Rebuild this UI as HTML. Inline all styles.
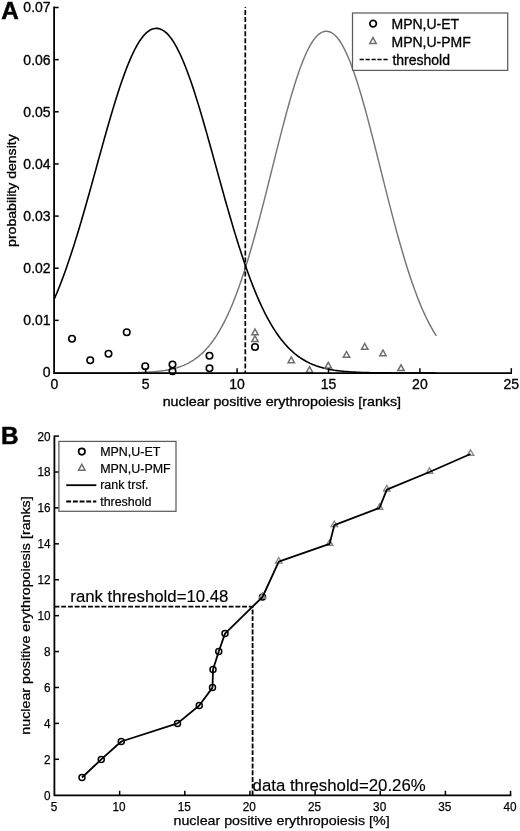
<!DOCTYPE html>
<html lang="en"><head><meta charset="utf-8"><title>Figure</title>
<style>
html,body{margin:0;padding:0;background:#fff;}
body{width:520px;height:831px;overflow:hidden;}
svg{display:block;}
</style></head><body>
<svg width="520" height="831" viewBox="0 0 520 831">
<rect width="520" height="831" fill="#fff"/>
<g id="panelA">
<path d="M54.30,373.00 L55.57,373.00 L56.85,373.00 L58.12,373.00 L59.39,373.00 L60.67,373.00 L61.94,373.00 L63.21,373.00 L64.49,373.00 L65.76,373.00 L67.04,373.00 L68.31,373.00 L69.58,373.00 L70.86,373.00 L72.13,373.00 L73.40,373.00 L74.68,373.00 L75.95,373.00 L77.22,373.00 L78.50,373.00 L79.77,373.00 L81.04,373.00 L82.32,373.00 L83.59,373.00 L84.86,373.00 L86.14,373.00 L87.41,372.99 L88.68,372.99 L89.96,372.99 L91.23,372.99 L92.51,372.99 L93.78,372.99 L95.05,372.99 L96.33,372.99 L97.60,372.99 L98.87,372.98 L100.15,372.98 L101.42,372.98 L102.69,372.98 L103.97,372.97 L105.24,372.97 L106.51,372.97 L107.79,372.96 L109.06,372.96 L110.33,372.96 L111.61,372.95 L112.88,372.94 L114.15,372.94 L115.43,372.93 L116.70,372.92 L117.98,372.92 L119.25,372.91 L120.52,372.90 L121.80,372.88 L123.07,372.87 L124.34,372.86 L125.62,372.84 L126.89,372.83 L128.16,372.81 L129.44,372.79 L130.71,372.77 L131.98,372.74 L133.26,372.72 L134.53,372.69 L135.80,372.66 L137.08,372.62 L138.35,372.58 L139.62,372.54 L140.90,372.50 L142.17,372.45 L143.45,372.40 L144.72,372.34 L145.99,372.28 L147.27,372.21 L148.54,372.14 L149.81,372.06 L151.09,371.97 L152.36,371.88 L153.63,371.78 L154.91,371.67 L156.18,371.55 L157.45,371.43 L158.73,371.29 L160.00,371.14 L161.27,370.98 L162.55,370.81 L163.82,370.63 L165.10,370.43 L166.37,370.22 L167.64,369.99 L168.92,369.74 L170.19,369.48 L171.46,369.20 L172.74,368.90 L174.01,368.58 L175.28,368.23 L176.56,367.87 L177.83,367.48 L179.10,367.06 L180.38,366.62 L181.65,366.14 L182.92,365.64 L184.20,365.11 L185.47,364.54 L186.74,363.94 L188.02,363.30 L189.29,362.62 L190.57,361.91 L191.84,361.15 L193.11,360.35 L194.39,359.50 L195.66,358.61 L196.93,357.67 L198.21,356.68 L199.48,355.63 L200.75,354.53 L202.03,353.37 L203.30,352.15 L204.57,350.88 L205.85,349.54 L207.12,348.13 L208.39,346.66 L209.67,345.12 L210.94,343.51 L212.21,341.83 L213.49,340.07 L214.76,338.23 L216.04,336.32 L217.31,334.33 L218.58,332.25 L219.86,330.10 L221.13,327.86 L222.40,325.53 L223.68,323.11 L224.95,320.61 L226.22,318.01 L227.50,315.33 L228.77,312.55 L230.04,309.68 L231.32,306.72 L232.59,303.66 L233.86,300.51 L235.14,297.27 L236.41,293.93 L237.68,290.50 L238.96,286.97 L240.23,283.35 L241.51,279.64 L242.78,275.84 L244.05,271.95 L245.33,267.97 L246.60,263.90 L247.87,259.75 L249.15,255.51 L250.42,251.20 L251.69,246.80 L252.97,242.34 L254.24,237.80 L255.51,233.19 L256.79,228.51 L258.06,223.78 L259.33,218.99 L260.61,214.14 L261.88,209.25 L263.16,204.31 L264.43,199.33 L265.70,194.32 L266.98,189.28 L268.25,184.21 L269.52,179.13 L270.80,174.04 L272.07,168.94 L273.34,163.84 L274.62,158.74 L275.89,153.66 L277.16,148.60 L278.44,143.56 L279.71,138.56 L280.98,133.59 L282.26,128.67 L283.53,123.81 L284.80,119.00 L286.08,114.26 L287.35,109.59 L288.63,105.00 L289.90,100.50 L291.17,96.09 L292.45,91.79 L293.72,87.58 L294.99,83.49 L296.27,79.52 L297.54,75.67 L298.81,71.96 L300.09,68.38 L301.36,64.94 L302.63,61.64 L303.91,58.50 L305.18,55.51 L306.45,52.69 L307.73,50.02 L309.00,47.53 L310.27,45.20 L311.55,43.05 L312.82,41.08 L314.10,39.28 L315.37,37.67 L316.64,36.24 L317.92,34.99 L319.19,33.92 L320.46,33.04 L321.74,32.34 L323.01,31.82 L324.28,31.47 L325.56,31.30 L326.83,31.29 L328.10,31.43 L329.38,31.74 L330.65,32.23 L331.92,32.90 L333.20,33.75 L334.47,34.79 L335.74,36.00 L337.02,37.40 L338.29,38.99 L339.57,40.75 L340.84,42.69 L342.11,44.81 L343.39,47.10 L344.66,49.57 L345.93,52.20 L347.21,55.00 L348.48,57.96 L349.75,61.07 L351.03,64.34 L352.30,67.76 L353.57,71.31 L354.85,75.01 L356.12,78.83 L357.39,82.78 L358.67,86.85 L359.94,91.03 L361.22,95.32 L362.49,99.72 L363.76,104.20 L365.04,108.77 L366.31,113.43 L367.58,118.16 L368.86,122.95 L370.13,127.81 L371.40,132.72 L372.68,137.68 L373.95,142.67 L375.22,147.70 L376.50,152.76 L377.77,157.84 L379.04,162.93 L380.32,168.03 L381.59,173.13 L382.86,178.23 L384.14,183.31 L385.41,188.38 L386.69,193.43 L387.96,198.44 L389.23,203.43 L390.51,208.38 L391.78,213.28 L393.05,218.13 L394.33,222.93 L395.60,227.68 L396.87,232.36 L398.15,236.99 L399.42,241.54 L400.69,246.02 L401.97,250.42 L403.24,254.75 L404.51,259.00 L405.79,263.17 L407.06,267.25 L408.33,271.25 L409.61,275.15 L410.88,278.97 L412.16,282.70 L413.43,286.34 L414.70,289.88 L415.98,293.33 L417.25,296.68 L418.52,299.94 L419.80,303.11 L421.07,306.18 L422.34,309.16 L423.62,312.05 L424.89,314.84 L426.16,317.54 L427.44,320.15 L428.71,322.67 L429.98,325.11 L431.26,327.45 L432.53,329.71 L433.80,331.88 L435.08,333.97 L436.35,335.97" fill="none" stroke="#767676" stroke-width="1.45"/>
<path d="M54.30,298.97 L55.57,296.02 L56.85,292.99 L58.12,289.89 L59.39,286.71 L60.67,283.45 L61.94,280.12 L63.21,276.71 L64.49,273.23 L65.76,269.68 L67.04,266.05 L68.31,262.36 L69.58,258.59 L70.86,254.76 L72.13,250.87 L73.40,246.90 L74.68,242.88 L75.95,238.80 L77.22,234.66 L78.50,230.46 L79.77,226.21 L81.04,221.91 L82.32,217.57 L83.59,213.18 L84.86,208.75 L86.14,204.28 L87.41,199.78 L88.68,195.25 L89.96,190.70 L91.23,186.12 L92.51,181.52 L93.78,176.91 L95.05,172.29 L96.33,167.66 L97.60,163.03 L98.87,158.41 L100.15,153.79 L101.42,149.18 L102.69,144.60 L103.97,140.03 L105.24,135.50 L106.51,130.99 L107.79,126.53 L109.06,122.10 L110.33,117.72 L111.61,113.40 L112.88,109.13 L114.15,104.93 L115.43,100.79 L116.70,96.72 L117.98,92.74 L119.25,88.83 L120.52,85.01 L121.80,81.28 L123.07,77.65 L124.34,74.12 L125.62,70.70 L126.89,67.38 L128.16,64.18 L129.44,61.09 L130.71,58.13 L131.98,55.29 L133.26,52.58 L134.53,50.00 L135.80,47.56 L137.08,45.25 L138.35,43.08 L139.62,41.06 L140.90,39.18 L142.17,37.45 L143.45,35.87 L144.72,34.43 L145.99,33.15 L147.27,32.02 L148.54,31.04 L149.81,30.22 L151.09,29.55 L152.36,29.03 L153.63,28.66 L154.91,28.43 L156.18,28.36 L157.45,28.41 L158.73,28.60 L160.00,28.94 L161.27,29.44 L162.55,30.08 L163.82,30.87 L165.10,31.82 L166.37,32.92 L167.64,34.17 L168.92,35.58 L170.19,37.13 L171.46,38.84 L172.74,40.69 L174.01,42.68 L175.28,44.82 L176.56,47.10 L177.83,49.52 L179.10,52.08 L180.38,54.76 L181.65,57.58 L182.92,60.52 L184.20,63.58 L185.47,66.76 L186.74,70.05 L188.02,73.46 L189.29,76.97 L190.57,80.58 L191.84,84.29 L193.11,88.09 L194.39,91.98 L195.66,95.96 L196.93,100.01 L198.21,104.13 L199.48,108.32 L200.75,112.58 L202.03,116.89 L203.30,121.26 L204.57,125.68 L205.85,130.14 L207.12,134.63 L208.39,139.16 L209.67,143.72 L210.94,148.31 L212.21,152.91 L213.49,157.52 L214.76,162.14 L216.04,166.77 L217.31,171.40 L218.58,176.02 L219.86,180.64 L221.13,185.24 L222.40,189.82 L223.68,194.38 L224.95,198.92 L226.22,203.42 L227.50,207.90 L228.77,212.33 L230.04,216.73 L231.32,221.09 L232.59,225.39 L233.86,229.65 L235.14,233.86 L236.41,238.01 L237.68,242.10 L238.96,246.14 L240.23,250.11 L241.51,254.02 L242.78,257.87 L244.05,261.64 L245.33,265.35 L246.60,268.99 L247.87,272.56 L249.15,276.05 L250.42,279.47 L251.69,282.82 L252.97,286.09 L254.24,289.28 L255.51,292.40 L256.79,295.45 L258.06,298.42 L259.33,301.31 L260.61,304.12 L261.88,306.86 L263.16,309.52 L264.43,312.11 L265.70,314.62 L266.98,317.05 L268.25,319.42 L269.52,321.71 L270.80,323.92 L272.07,326.07 L273.34,328.14 L274.62,330.15 L275.89,332.09 L277.16,333.96 L278.44,335.76 L279.71,337.50 L280.98,339.17 L282.26,340.79 L283.53,342.34 L284.80,343.83 L286.08,345.27 L287.35,346.64 L288.63,347.97 L289.90,349.24 L291.17,350.45 L292.45,351.62 L293.72,352.73 L294.99,353.80 L296.27,354.82 L297.54,355.79 L298.81,356.73 L300.09,357.62 L301.36,358.46 L302.63,359.27 L303.91,360.04 L305.18,360.78 L306.45,361.47 L307.73,362.14 L309.00,362.77 L310.27,363.37 L311.55,363.94 L312.82,364.48 L314.10,364.99 L315.37,365.48 L316.64,365.94 L317.92,366.37 L319.19,366.78 L320.46,367.17 L321.74,367.54 L323.01,367.89 L324.28,368.21 L325.56,368.52 L326.83,368.81 L328.10,369.09 L329.38,369.35 L330.65,369.59 L331.92,369.82 L333.20,370.03 L334.47,370.24 L335.74,370.42 L337.02,370.60 L338.29,370.77 L339.57,370.93 L340.84,371.07 L342.11,371.21 L343.39,371.34 L344.66,371.46 L345.93,371.57 L347.21,371.67 L348.48,371.77 L349.75,371.86 L351.03,371.95 L352.30,372.02 L353.57,372.10 L354.85,372.17 L356.12,372.23 L357.39,372.29 L358.67,372.34 L359.94,372.40 L361.22,372.44 L362.49,372.49 L363.76,372.53 L365.04,372.57 L366.31,372.60 L367.58,372.63 L368.86,372.66 L370.13,372.69 L371.40,372.72 L372.68,372.74 L373.95,372.76 L375.22,372.78 L376.50,372.80 L377.77,372.82 L379.04,372.83 L380.32,372.85 L381.59,372.86 L382.86,372.87 L384.14,372.88 L385.41,372.89 L386.69,372.90 L387.96,372.91 L389.23,372.92 L390.51,372.93 L391.78,372.93 L393.05,372.94 L394.33,372.94 L395.60,372.95 L396.87,372.95 L398.15,372.96 L399.42,372.96 L400.69,372.97 L401.97,372.97 L403.24,372.97 L404.51,372.97 L405.79,372.98 L407.06,372.98 L408.33,372.98 L409.61,372.98 L410.88,372.98 L412.16,372.99 L413.43,372.99 L414.70,372.99 L415.98,372.99 L417.25,372.99 L418.52,372.99 L419.80,372.99 L421.07,372.99 L422.34,372.99 L423.62,372.99 L424.89,373.00 L426.16,373.00 L427.44,373.00 L428.71,373.00 L429.98,373.00 L431.26,373.00 L432.53,373.00 L433.80,373.00 L435.08,373.00 L436.35,373.00" fill="none" stroke="#000" stroke-width="1.6"/>
<line x1="245.3" y1="10" x2="245.3" y2="373" stroke="#000" stroke-width="1.7" stroke-dasharray="5 2.07"/>
<line x1="245.3" y1="6.9" x2="245.3" y2="7.9" stroke="#000" stroke-width="1.5"/>
<circle cx="72.00" cy="338.75" r="3.25" fill="none" stroke="#000" stroke-width="1.60"/>
<circle cx="90.25" cy="360.25" r="3.25" fill="none" stroke="#000" stroke-width="1.60"/>
<circle cx="108.50" cy="353.75" r="3.25" fill="none" stroke="#000" stroke-width="1.60"/>
<circle cx="126.75" cy="332.25" r="3.25" fill="none" stroke="#000" stroke-width="1.60"/>
<circle cx="145.25" cy="366.25" r="3.25" fill="none" stroke="#000" stroke-width="1.60"/>
<circle cx="172.50" cy="364.50" r="3.25" fill="none" stroke="#000" stroke-width="1.60"/>
<circle cx="172.50" cy="371.25" r="3.25" fill="none" stroke="#000" stroke-width="1.60"/>
<circle cx="209.50" cy="355.75" r="3.25" fill="none" stroke="#000" stroke-width="1.60"/>
<circle cx="209.50" cy="368.25" r="3.25" fill="none" stroke="#000" stroke-width="1.60"/>
<circle cx="255.00" cy="347.00" r="3.25" fill="none" stroke="#000" stroke-width="1.60"/>
<polygon points="255.00,329.00 258.20,334.80 251.80,334.80" fill="none" stroke="#6e6e6e" stroke-width="1.50" stroke-linejoin="miter"/>
<polygon points="255.00,335.75 258.20,341.55 251.80,341.55" fill="none" stroke="#6e6e6e" stroke-width="1.50" stroke-linejoin="miter"/>
<polygon points="291.25,357.00 294.45,362.80 288.05,362.80" fill="none" stroke="#6e6e6e" stroke-width="1.50" stroke-linejoin="miter"/>
<polygon points="309.50,366.70 312.70,372.50 306.30,372.50" fill="none" stroke="#6e6e6e" stroke-width="1.50" stroke-linejoin="miter"/>
<polygon points="328.25,362.30 331.45,368.10 325.05,368.10" fill="none" stroke="#6e6e6e" stroke-width="1.50" stroke-linejoin="miter"/>
<polygon points="346.50,351.50 349.70,357.30 343.30,357.30" fill="none" stroke="#6e6e6e" stroke-width="1.50" stroke-linejoin="miter"/>
<polygon points="364.75,343.50 367.95,349.30 361.55,349.30" fill="none" stroke="#6e6e6e" stroke-width="1.50" stroke-linejoin="miter"/>
<polygon points="383.00,350.00 386.20,355.80 379.80,355.80" fill="none" stroke="#6e6e6e" stroke-width="1.50" stroke-linejoin="miter"/>
<polygon points="401.00,364.80 404.20,370.60 397.80,370.60" fill="none" stroke="#6e6e6e" stroke-width="1.50" stroke-linejoin="miter"/>
<path d="M54.1,6.6 V373.1 H512" fill="none" stroke="#000" stroke-width="1.8"/>
<line x1="54.1" y1="320.36" x2="58.7" y2="320.36" stroke="#000" stroke-width="1.5"/>
<line x1="54.1" y1="268.22" x2="58.7" y2="268.22" stroke="#000" stroke-width="1.5"/>
<line x1="54.1" y1="216.08" x2="58.7" y2="216.08" stroke="#000" stroke-width="1.5"/>
<line x1="54.1" y1="163.94" x2="58.7" y2="163.94" stroke="#000" stroke-width="1.5"/>
<line x1="54.1" y1="111.80" x2="58.7" y2="111.80" stroke="#000" stroke-width="1.5"/>
<line x1="54.1" y1="59.66" x2="58.7" y2="59.66" stroke="#000" stroke-width="1.5"/>
<line x1="54.1" y1="7.52" x2="58.7" y2="7.52" stroke="#000" stroke-width="1.5"/>
<line x1="145.70" y1="373" x2="145.70" y2="368.2" stroke="#000" stroke-width="1.5"/>
<line x1="237.10" y1="373" x2="237.10" y2="368.2" stroke="#000" stroke-width="1.5"/>
<line x1="328.50" y1="373" x2="328.50" y2="368.2" stroke="#000" stroke-width="1.5"/>
<line x1="419.90" y1="373" x2="419.90" y2="368.2" stroke="#000" stroke-width="1.5"/>
<line x1="511.30" y1="373" x2="511.30" y2="368.2" stroke="#000" stroke-width="1.5"/>
<g font-family='"Liberation Sans", Arial, Helvetica, sans-serif' font-size="14.0" fill="#000" stroke="#000" stroke-width="0.32">
<text x="50.6" y="377.40" text-anchor="end">0</text>
<text x="50.6" y="325.26" text-anchor="end">0.01</text>
<text x="50.6" y="273.12" text-anchor="end">0.02</text>
<text x="50.6" y="220.98" text-anchor="end">0.03</text>
<text x="50.6" y="168.84" text-anchor="end">0.04</text>
<text x="50.6" y="116.70" text-anchor="end">0.05</text>
<text x="50.6" y="64.56" text-anchor="end">0.06</text>
<text x="50.6" y="12.42" text-anchor="end">0.07</text>
<text x="54.30" y="389.2" text-anchor="middle">0</text>
<text x="145.70" y="389.2" text-anchor="middle">5</text>
<text x="237.10" y="389.2" text-anchor="middle">10</text>
<text x="328.50" y="389.2" text-anchor="middle">15</text>
<text x="419.90" y="389.2" text-anchor="middle">20</text>
<text x="511.30" y="389.2" text-anchor="middle">25</text>
<text x="281.9" y="405.9" text-anchor="middle" font-size="13.6" textLength="238.4" lengthAdjust="spacingAndGlyphs">nuclear positive erythropoiesis [ranks]</text>
<text transform="translate(16.1,190.6) rotate(-90)" text-anchor="middle" font-size="12.9" textLength="112.6" lengthAdjust="spacingAndGlyphs">probability density</text>
</g>
<rect x="352.5" y="13.0" width="155.2" height="57.4" fill="#fff" stroke="#5c5c5c" stroke-width="1.25"/>
<circle cx="373.10" cy="23.65" r="3.30" fill="none" stroke="#000" stroke-width="1.70"/>
<polygon points="373.00,37.60 376.20,43.40 369.80,43.40" fill="none" stroke="#6e6e6e" stroke-width="1.50" stroke-linejoin="miter"/>
<line x1="359.6" y1="59.5" x2="389" y2="59.5" stroke="#000" stroke-width="1.7" stroke-dasharray="4.2 1.76"/>
<g font-family='"Liberation Sans", Arial, Helvetica, sans-serif' font-size="14.0" fill="#000" stroke="#000" stroke-width="0.32">
<text x="391.5" y="29.2">MPN,U-ET</text>
<text x="391.5" y="46.9">MPN,U-PMF</text>
<text x="392.4" y="65.2">threshold</text>
</g>
<text x="1.2" y="19.4" font-family='"Liberation Sans", Arial, Helvetica, sans-serif' font-size="24.3" font-weight="bold" fill="#000" stroke="#000" stroke-width="0.5">A</text>
</g>
<g id="panelB">
<path d="M54.5,606.6 H252.6 V795.5" fill="none" stroke="#000" stroke-width="1.8" stroke-dasharray="4.9 1.8"/>
<circle cx="82.00" cy="777.50" r="3.00" fill="none" stroke="#000" stroke-width="1.50"/>
<circle cx="101.25" cy="759.40" r="3.00" fill="none" stroke="#000" stroke-width="1.50"/>
<circle cx="121.25" cy="741.50" r="3.00" fill="none" stroke="#000" stroke-width="1.50"/>
<circle cx="177.50" cy="723.40" r="3.00" fill="none" stroke="#000" stroke-width="1.50"/>
<circle cx="199.25" cy="705.50" r="3.00" fill="none" stroke="#000" stroke-width="1.50"/>
<circle cx="212.50" cy="687.60" r="3.00" fill="none" stroke="#000" stroke-width="1.50"/>
<circle cx="213.00" cy="669.60" r="3.00" fill="none" stroke="#000" stroke-width="1.50"/>
<circle cx="218.75" cy="651.50" r="3.00" fill="none" stroke="#000" stroke-width="1.50"/>
<circle cx="225.00" cy="633.60" r="3.00" fill="none" stroke="#000" stroke-width="1.50"/>
<circle cx="262.50" cy="597.00" r="3.00" fill="none" stroke="#000" stroke-width="1.50"/>
<polygon points="262.50,592.80 265.80,598.40 259.20,598.40" fill="none" stroke="#858585" stroke-width="1.30" stroke-linejoin="miter"/>
<polygon points="278.75,557.50 282.05,563.10 275.45,563.10" fill="none" stroke="#858585" stroke-width="1.30" stroke-linejoin="miter"/>
<polygon points="329.60,539.70 332.90,545.30 326.30,545.30" fill="none" stroke="#858585" stroke-width="1.30" stroke-linejoin="miter"/>
<polygon points="334.30,521.00 337.60,526.60 331.00,526.60" fill="none" stroke="#858585" stroke-width="1.30" stroke-linejoin="miter"/>
<polygon points="379.50,503.70 382.80,509.30 376.20,509.30" fill="none" stroke="#858585" stroke-width="1.30" stroke-linejoin="miter"/>
<polygon points="386.80,485.40 390.10,491.00 383.50,491.00" fill="none" stroke="#858585" stroke-width="1.30" stroke-linejoin="miter"/>
<polygon points="429.50,467.80 432.80,473.40 426.20,473.40" fill="none" stroke="#858585" stroke-width="1.30" stroke-linejoin="miter"/>
<polygon points="470.50,449.80 473.80,455.40 467.20,455.40" fill="none" stroke="#858585" stroke-width="1.30" stroke-linejoin="miter"/>
<path d="M82.00,777.50 L101.25,759.40 L121.25,741.50 L177.50,723.40 L199.25,705.50 L212.50,687.60 L213.00,669.60 L218.75,651.50 L225.00,633.60 L262.50,597.00 L278.75,561.70 L329.60,543.90 L334.30,525.20 L379.50,507.90 L386.80,489.60 L429.50,472.00 L470.50,454.00" fill="none" stroke="#000" stroke-width="1.8" stroke-linejoin="round"/>
<path d="M54.4,435.4 V795.4 H511.3" fill="none" stroke="#000" stroke-width="1.8"/>
<line x1="54.5" y1="759.29" x2="59" y2="759.29" stroke="#000" stroke-width="1.5"/>
<line x1="54.5" y1="723.38" x2="59" y2="723.38" stroke="#000" stroke-width="1.5"/>
<line x1="54.5" y1="687.47" x2="59" y2="687.47" stroke="#000" stroke-width="1.5"/>
<line x1="54.5" y1="651.56" x2="59" y2="651.56" stroke="#000" stroke-width="1.5"/>
<line x1="54.5" y1="615.65" x2="59" y2="615.65" stroke="#000" stroke-width="1.5"/>
<line x1="54.5" y1="579.74" x2="59" y2="579.74" stroke="#000" stroke-width="1.5"/>
<line x1="54.5" y1="543.83" x2="59" y2="543.83" stroke="#000" stroke-width="1.5"/>
<line x1="54.5" y1="507.92" x2="59" y2="507.92" stroke="#000" stroke-width="1.5"/>
<line x1="54.5" y1="472.01" x2="59" y2="472.01" stroke="#000" stroke-width="1.5"/>
<line x1="54.5" y1="436.10" x2="59" y2="436.10" stroke="#000" stroke-width="1.5"/>
<line x1="119.65" y1="795.5" x2="119.65" y2="790.8" stroke="#000" stroke-width="1.5"/>
<line x1="184.80" y1="795.5" x2="184.80" y2="790.8" stroke="#000" stroke-width="1.5"/>
<line x1="249.95" y1="795.5" x2="249.95" y2="790.8" stroke="#000" stroke-width="1.5"/>
<line x1="315.10" y1="795.5" x2="315.10" y2="790.8" stroke="#000" stroke-width="1.5"/>
<line x1="380.25" y1="795.5" x2="380.25" y2="790.8" stroke="#000" stroke-width="1.5"/>
<line x1="445.40" y1="795.5" x2="445.40" y2="790.8" stroke="#000" stroke-width="1.5"/>
<line x1="510.55" y1="795.5" x2="510.55" y2="790.8" stroke="#000" stroke-width="1.5"/>
<g font-family='"Liberation Sans", Arial, Helvetica, sans-serif' font-size="12.8" fill="#000" stroke="#000" stroke-width="0.25">
<text x="50.6" y="799.60" text-anchor="end" textLength="6.55" lengthAdjust="spacingAndGlyphs">0</text>
<text x="50.6" y="763.69" text-anchor="end" textLength="6.55" lengthAdjust="spacingAndGlyphs">2</text>
<text x="50.6" y="727.78" text-anchor="end" textLength="6.55" lengthAdjust="spacingAndGlyphs">4</text>
<text x="50.6" y="691.87" text-anchor="end" textLength="6.55" lengthAdjust="spacingAndGlyphs">6</text>
<text x="50.6" y="655.96" text-anchor="end" textLength="6.55" lengthAdjust="spacingAndGlyphs">8</text>
<text x="50.6" y="620.05" text-anchor="end" textLength="13.10" lengthAdjust="spacingAndGlyphs">10</text>
<text x="50.6" y="584.14" text-anchor="end" textLength="13.10" lengthAdjust="spacingAndGlyphs">12</text>
<text x="50.6" y="548.23" text-anchor="end" textLength="13.10" lengthAdjust="spacingAndGlyphs">14</text>
<text x="50.6" y="512.32" text-anchor="end" textLength="13.10" lengthAdjust="spacingAndGlyphs">16</text>
<text x="50.6" y="476.41" text-anchor="end" textLength="13.10" lengthAdjust="spacingAndGlyphs">18</text>
<text x="50.6" y="440.50" text-anchor="end" textLength="13.10" lengthAdjust="spacingAndGlyphs">20</text>
<text x="53.90" y="810.9" text-anchor="middle" textLength="6.55" lengthAdjust="spacingAndGlyphs">5</text>
<text x="119.05" y="810.9" text-anchor="middle" textLength="13.10" lengthAdjust="spacingAndGlyphs">10</text>
<text x="184.20" y="810.9" text-anchor="middle" textLength="13.10" lengthAdjust="spacingAndGlyphs">15</text>
<text x="249.35" y="810.9" text-anchor="middle" textLength="13.10" lengthAdjust="spacingAndGlyphs">20</text>
<text x="314.50" y="810.9" text-anchor="middle" textLength="13.10" lengthAdjust="spacingAndGlyphs">25</text>
<text x="379.65" y="810.9" text-anchor="middle" textLength="13.10" lengthAdjust="spacingAndGlyphs">30</text>
<text x="444.80" y="810.9" text-anchor="middle" textLength="13.10" lengthAdjust="spacingAndGlyphs">35</text>
<text x="509.95" y="810.9" text-anchor="middle" textLength="13.10" lengthAdjust="spacingAndGlyphs">40</text>
<text x="281.6" y="825.0" text-anchor="middle" font-size="13.6" textLength="216.2" lengthAdjust="spacingAndGlyphs">nuclear positive erythropoiesis [%]</text>
<text transform="translate(30.2,615.5) rotate(-90)" text-anchor="middle" font-size="13.0" textLength="238.4" lengthAdjust="spacingAndGlyphs">nuclear positive erythropoiesis [ranks]</text>
</g>
<g font-family='"Liberation Sans", Arial, Helvetica, sans-serif' font-size="16.8" fill="#000" stroke="#000" stroke-width="0.15">
<text x="70.3" y="602.2">rank threshold=10.48</text>
<text x="252.6" y="791.3">data threshold=20.26%</text>
</g>
<rect x="58.9" y="441.4" width="117.1" height="69.9" fill="#fff" stroke="#5c5c5c" stroke-width="1.25"/>
<circle cx="81.80" cy="451.60" r="3.20" fill="none" stroke="#000" stroke-width="1.70"/>
<polygon points="81.80,464.40 85.00,470.20 78.60,470.20" fill="none" stroke="#6e6e6e" stroke-width="1.50" stroke-linejoin="miter"/>
<line x1="66.2" y1="485.2" x2="96.3" y2="485.2" stroke="#000" stroke-width="1.8"/>
<line x1="66.2" y1="501.5" x2="96.3" y2="501.5" stroke="#000" stroke-width="1.8" stroke-dasharray="4.9 1.8"/>
<g font-family='"Liberation Sans", Arial, Helvetica, sans-serif' font-size="12.45" fill="#000" stroke="#000" stroke-width="0.2">
<text x="100.2" y="456.3">MPN,U-ET</text>
<text x="100.2" y="472.6">MPN,U-PMF</text>
<text x="100.2" y="489.4">rank trsf.</text>
<text x="100.2" y="506.3">threshold</text>
</g>
<text x="0.9" y="444.2" font-family='"Liberation Sans", Arial, Helvetica, sans-serif' font-size="24.3" font-weight="bold" fill="#000" stroke="#000" stroke-width="0.5">B</text>
</g>
</svg>
</body></html>
